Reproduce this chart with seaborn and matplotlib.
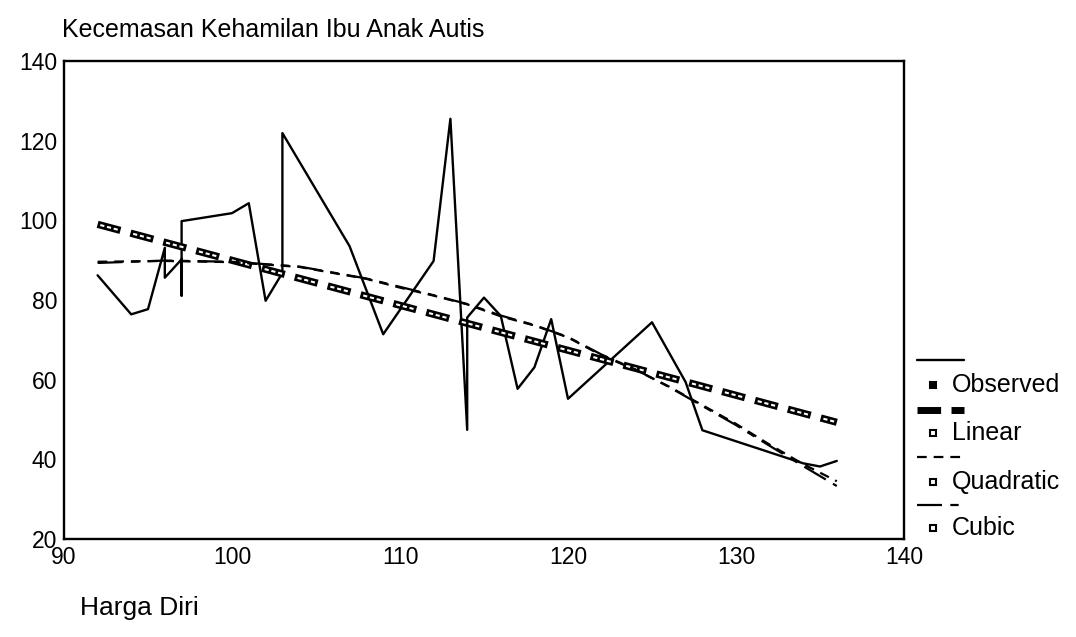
import matplotlib
matplotlib.use("Agg")
import matplotlib.pyplot as plt
from matplotlib.lines import Line2D
import seaborn as sns
import pandas as pd

obs_x = [92, 94, 95, 96, 96, 97, 97, 97, 100, 101, 102, 103, 103, 107, 109, 112,
         113, 114, 114, 115, 116, 117, 118, 119, 120, 125, 127, 128, 134, 135, 136]
obs_y = [86.2, 76.4, 77.7, 93.1, 85.6, 90.2, 81.1, 99.8, 101.8, 104.3, 79.8, 86.8,
         121.9, 93.5, 71.4, 89.8, 125.5, 47.4, 75.6, 80.6, 76.0, 57.7, 63.1, 75.2,
         55.2, 74.4, 59.4, 47.3, 39.0, 38.2, 39.6]

# fitted curves
lin_x = [92, 136]
lin_y = [99.0, 49.3]

fit_x = [92, 96, 100, 104, 106, 108, 110, 112, 114, 116, 118, 120, 122, 124, 126,
         128, 130, 132, 134, 136]
quad_y = [89.6, 89.8, 89.5, 88.3, 86.8, 85.3, 83.1, 81.1, 78.9, 75.9, 73.6, 70.6,
          66.1, 62.5, 58.3, 53.6, 48.9, 43.7, 38.8, 34.5]
cubic_y = [89.3, 89.9, 89.6, 88.4, 86.9, 85.4, 83.3, 81.2, 79.0, 76.1, 73.7, 70.7,
           66.3, 62.6, 58.2, 53.4, 48.6, 43.4, 38.3, 33.3]

x_ticks = [90, 100, 110, 120, 130, 140]
y_ticks = [20, 40, 60, 80, 100, 120, 140]

sns.set_style("white")
plt.rcParams["font.family"] = ["Liberation Sans", "DejaVu Sans"]
plt.rcParams["lines.scale_dashes"] = False
plt.rcParams["text.color"] = "black"
plt.rcParams["xtick.color"] = "black"
plt.rcParams["ytick.color"] = "black"

fig = plt.figure(figsize=(10.76, 6.37), dpi=100)
ax = fig.add_axes([64 / 1076, 1 - 539 / 637, 840 / 1076, 478 / 637])

obs = pd.DataFrame({"x": obs_x, "y": obs_y})
sns.lineplot(data=obs, x="x", y="y", sort=False, estimator=None,
             color="black", lw=1.7, ax=ax)

# linear: thick hatched dashes with small white holes
sns.lineplot(x=lin_x, y=lin_y, color="black", lw=5.2, ax=ax)
ax.lines[-1].set_linestyle((0, (17, 7.5)))
holes = (22.5, (3, 2, 3, 2, 3, 11.5))
ax.plot(lin_x, lin_y, color="white", lw=1.5, ls=holes)

sns.lineplot(x=fit_x, y=quad_y, color="black", lw=1.6, ax=ax)
ax.lines[-1].set_linestyle((0, (7, 5)))
sns.lineplot(x=fit_x, y=cubic_y, color="black", lw=1.6, ax=ax)
ax.lines[-1].set_linestyle((0, (18, 6, 6, 6)))

ax.set_xlim(90, 140)
ax.set_ylim(20, 140)
ax.set_xticks(x_ticks)
ax.set_yticks(y_ticks)
ax.tick_params(axis="both", labelsize=16.5, length=4, width=3, direction="out",
               color="black", labelcolor="black", pad=1)
for s in ax.spines.values():
    s.set_visible(True)
    s.set_color("black")
    s.set_linewidth(1.7)
ax.set_xlabel("")
ax.set_ylabel("")

fig.text(62 / 1076, 1 - 30 / 637, "Kecemasan Kehamilan Ibu Anak Autis",
         fontsize=18, va="center", ha="left", color="black")
fig.text(80 / 1076, 1 - 608 / 637, "Harga Diri", fontsize=19,
         va="center", ha="left", color="black")

# SPSS-style legend: line sample on one row, marker + label below
entries = [
    ("Observed", (0, ()), 1.7, 360, 385, "black"),
    ("Linear", (0, (17, 7.5)), 5.0, 410, 433, "white"),
    ("Quadratic", (0, (7, 5)), 1.6, 457, 482, "white"),
    ("Cubic", (0, (18, 6, 6, 6)), 1.6, 505, 528, "white"),
]
for label, style, width, y_line, y_text, face in entries:
    yl = 1 - y_line / 637
    yt = 1 - y_text / 637
    fig.add_artist(Line2D([917 / 1076, 964 / 1076], [yl, yl], color="black",
                          lw=width, ls=style if style[1] else "-"))
    fig.add_artist(Line2D([933 / 1076], [yt], marker="s", ms=4.5,
                          mfc=face, mec="black", mew=1.5, ls="none"))
    fig.text(952 / 1076, yt, label, fontsize=18, va="center", ha="left",
             color="black")

fig.savefig("out.png", dpi=100, facecolor="white")
